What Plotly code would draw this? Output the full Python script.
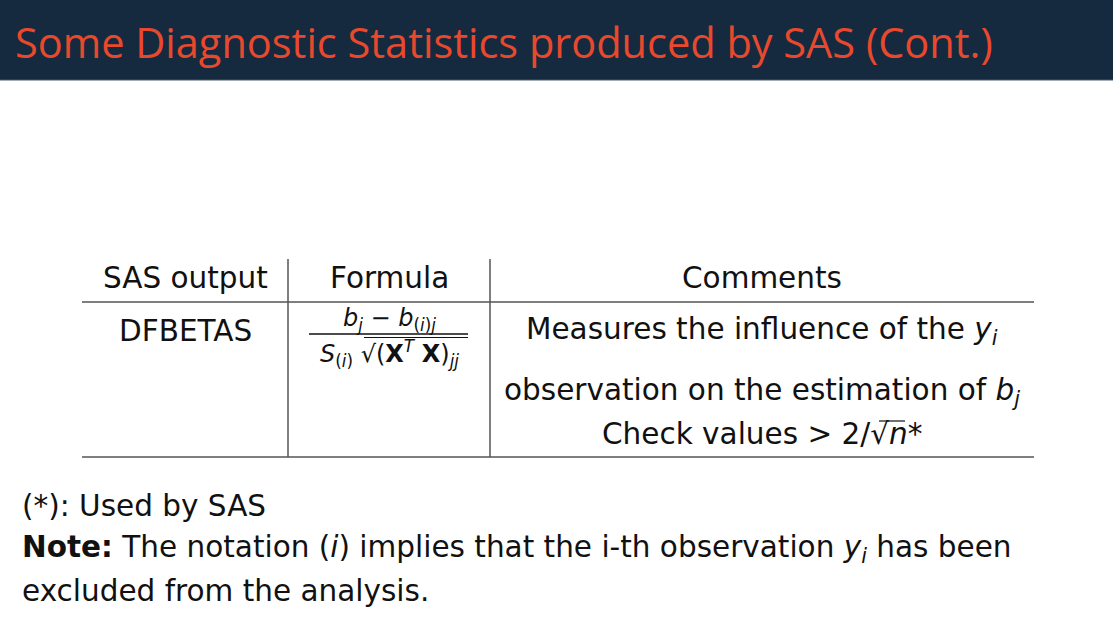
import plotly.graph_objects as go

# slide content
title_text = "Some Diagnostic Statistics produced by SAS (Cont.)"
headers = ["SAS output", "Formula", "Comments"]
statistic = ["DFBETAS"]
formula_num = "<i>b<sub>j</sub></i> − <i>b</i><sub>(<i>i</i>)<i>j</i></sub>"
formula_den = "<i>S</i><sub>(<i>i</i>)</sub> √(<b>X</b><sup><i>T</i></sup> <b>X</b>)<sub><i>jj</i></sub>"
comment_lines = [
    "Measures the influence of the <i>y<sub>i</sub></i>",
    "observation on the estimation of <i>b<sub>j</sub></i>",
    "Check values > 2/√<i>n</i>*",
]
footnotes = [
    "(*): Used by SAS",
    "<b>Note:</b> The notation (<i>i</i>) implies that the i-th observation <i>y<sub>i</sub></i> has been",
    "excluded from the analysis.",
]

W, H = 1113, 638
TITLE_FONT = "Open Sans"
FONT = "DejaVu Sans"
NAVY = "#152a3f"
ORANGE = "#e8492c"
INK = "#111111"
RULE = "#555555"

# column centres / row positions (pixels on the slide)
col_x = [185, 389, 762]
col_lines = [288, 490]
table_left, table_right = 82, 1034
header_y, header_rule, table_top, table_bottom = 278, 302, 259, 457
comment_y = [331, 392, 434]
foot_y = [506, 549, 591]

fig = go.Figure()

# title bar
fig.add_shape(type="rect", x0=0, x1=W, y0=0, y1=80, fillcolor=NAVY, line_width=0, layer="below")
fig.add_shape(type="line", x0=0, x1=W, y0=80, y1=80, line=dict(color="#4a5a6c", width=1))
fig.add_annotation(x=13, y=42, text=title_text, xanchor="left", yanchor="middle",
                   font=dict(family=TITLE_FONT, size=41.5, color=ORANGE))

# table rules
fig.add_shape(type="line", x0=table_left, x1=table_right, y0=header_rule, y1=header_rule,
              line=dict(color=RULE, width=1.5))
fig.add_shape(type="line", x0=table_left, x1=table_right, y0=table_bottom, y1=table_bottom,
              line=dict(color=RULE, width=1.5))
for cx in col_lines:
    fig.add_shape(type="line", x0=cx, x1=cx, y0=table_top, y1=table_bottom,
                  line=dict(color=RULE, width=1.5))

for x, h in zip(col_x, headers):
    fig.add_annotation(x=x, y=header_y, text=h, font=dict(family=FONT, size=29.5, color=INK))

fig.add_annotation(x=col_x[0], y=331, text=statistic[0], font=dict(family=FONT, size=29.5, color=INK))

# formula as a stacked fraction
fig.add_annotation(x=col_x[1], y=319, text=formula_num, font=dict(family=FONT, size=24, color=INK))
fig.add_shape(type="line", x0=309, x1=468, y0=334, y1=334, line=dict(color=INK, width=1.3))
fig.add_annotation(x=col_x[1], y=353, text=formula_den, font=dict(family=FONT, size=24, color=INK))
fig.add_shape(type="line", x0=364, x1=468, y0=337.5, y1=337.5, line=dict(color=INK, width=1.2))

for y, t in zip(comment_y, comment_lines):
    fig.add_annotation(x=col_x[2], y=y, text=t, font=dict(family=FONT, size=29.5, color=INK))
fig.add_shape(type="line", x0=879, x1=905, y0=421, y1=421, line=dict(color=INK, width=1.2))

for y, t in zip(foot_y, footnotes):
    fig.add_annotation(x=20, y=y, text=t, xanchor="left",
                       font=dict(family=FONT, size=29.5, color=INK))

fig.update_annotations(showarrow=False, xref="x", yref="y")
fig.update_xaxes(range=[0, W], visible=False, fixedrange=True)
fig.update_yaxes(range=[H, 0], visible=False, fixedrange=True)
fig.update_layout(width=W, height=H, margin=dict(l=0, r=0, t=0, b=0),
                  paper_bgcolor="white", plot_bgcolor="white", showlegend=False)

fig.write_html("out.html", config={"displayModeBar": False},
               post_script="document.body.style.margin='0';")
